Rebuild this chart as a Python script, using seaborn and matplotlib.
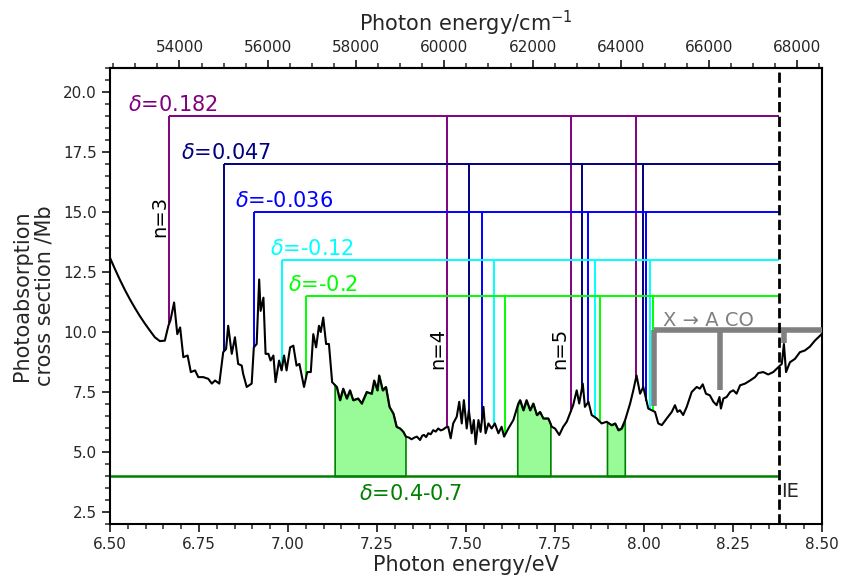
import numpy as np
import pandas as pd
import matplotlib
matplotlib.use("Agg")
import matplotlib.pyplot as plt
from matplotlib.ticker import MultipleLocator
import seaborn as sns

# ---------------- data ----------------
energy_ev = [6.500, 6.514, 6.528, 6.542, 6.556, 6.570, 6.584, 6.598, 6.612, 6.626,
             6.640, 6.654, 6.664, 6.670, 6.680, 6.689, 6.697,
             6.706, 6.718, 6.727, 6.739, 6.748, 6.762, 6.776, 6.786, 6.795, 6.807,
             6.818, 6.826, 6.832, 6.842, 6.851, 6.860, 6.870, 6.874, 6.884, 6.898,
             6.904, 6.912, 6.919, 6.923, 6.931, 6.937, 6.945, 6.951, 6.959, 6.965,
             6.975, 6.982, 6.989, 6.996, 7.006, 7.015, 7.024, 7.032, 7.045, 7.054,
             7.064, 7.071, 7.079, 7.087, 7.092, 7.099, 7.107, 7.115, 7.124, 7.137,
             7.146, 7.155, 7.165, 7.174, 7.183, 7.197, 7.207, 7.221, 7.235, 7.242,
             7.251, 7.256, 7.266, 7.275, 7.285, 7.296, 7.305, 7.315, 7.324, 7.331,
             7.340, 7.347, 7.355, 7.362, 7.371, 7.377, 7.382, 7.388, 7.394, 7.401,
             7.408, 7.415, 7.422, 7.429, 7.436, 7.443, 7.450, 7.457,
             7.464, 7.474, 7.481, 7.488, 7.494, 7.502, 7.508, 7.516, 7.522, 7.527,
             7.535, 7.541, 7.549, 7.555, 7.563, 7.572, 7.581, 7.591, 7.600, 7.607,
             7.619, 7.633, 7.647, 7.652, 7.661, 7.670, 7.680, 7.689, 7.699, 7.708,
             7.717, 7.731, 7.741, 7.750, 7.762, 7.773, 7.783, 7.792, 7.801, 7.811,
             7.818, 7.828, 7.834, 7.844, 7.853, 7.867, 7.881, 7.895, 7.909, 7.919,
             7.928, 7.937, 7.947, 7.961, 7.970, 7.979, 7.989, 7.998, 8.012, 8.031,
             8.040, 8.050, 8.064, 8.078, 8.087, 8.094, 8.101, 8.110, 8.120, 8.134,
             8.148, 8.157, 8.165, 8.174, 8.185, 8.195, 8.204, 8.212, 8.216, 8.223,
             8.232, 8.242, 8.251, 8.260, 8.270, 8.284, 8.298, 8.312, 8.321, 8.335,
             8.349, 8.363, 8.373, 8.387, 8.393, 8.399, 8.410, 8.424, 8.438, 8.452,
             8.466, 8.480, 8.499]
cross_section = [13.09, 12.62, 12.17, 11.75, 11.36, 11.00, 10.66, 10.35, 10.06, 9.78,
                 9.62, 9.64, 10.26, 10.50, 11.23, 9.91, 10.19,
                 8.95, 9.02, 8.33, 8.40, 8.12, 8.12, 8.05, 7.85, 7.98, 7.85,
                 9.16, 9.29, 10.26, 9.09, 9.78, 8.67, 8.60, 8.26, 7.71, 7.85,
                 9.36, 9.50, 12.19, 10.88, 11.43, 9.09, 9.09, 8.81, 9.02, 7.91,
                 8.81, 8.40, 9.02, 8.40, 9.36, 9.43, 8.60, 8.67, 7.71, 8.33,
                 8.33, 9.91, 9.36, 10.26, 10.00, 10.60, 9.50, 9.50, 7.91, 7.71,
                 7.16, 7.64, 7.23, 7.57, 7.16, 7.23, 7.02, 7.50, 7.43, 7.98,
                 7.57, 8.19, 7.57, 7.71, 6.88, 6.60, 6.05, 5.98, 5.84, 5.64,
                 5.60, 5.53, 5.60, 5.64, 5.50, 5.68, 5.71, 5.62, 5.78, 5.74,
                 5.91, 5.85, 5.98, 5.90, 5.94, 6.02, 6.05, 5.57,
                 6.19, 6.47, 7.09, 6.19, 7.16, 5.98, 6.74, 5.78, 6.33, 5.33,
                 6.33, 5.84, 6.88, 5.78, 6.19, 5.98, 6.19, 5.78, 6.05, 5.64,
                 5.98, 6.33, 7.02, 7.16, 6.74, 7.16, 6.74, 7.02, 6.54, 6.67,
                 6.40, 6.40, 6.05, 5.98, 5.71, 6.05, 6.26, 6.60, 6.95, 7.57,
                 7.02, 7.85, 6.88, 7.09, 6.54, 6.40, 6.19, 6.26, 6.12, 6.19,
                 5.91, 5.98, 6.33, 7.02, 7.57, 8.19, 7.43, 7.71, 6.81, 6.67,
                 6.19, 6.12, 6.40, 6.67, 6.95, 6.67, 6.74, 6.54, 6.88, 7.50,
                 7.71, 7.64, 7.82, 7.43, 7.36, 7.09, 6.95, 7.29, 6.81, 7.23,
                 7.29, 7.50, 7.57, 7.43, 7.78, 7.85, 7.98, 8.12, 8.29, 8.33,
                 8.23, 8.33, 8.47, 8.67, 9.50, 8.33, 8.74, 8.88, 9.16, 9.23,
                 9.39, 9.64, 9.91]

series_labels = ["$\\delta$=0.182", "$\\delta$=0.047", "$\\delta$=-0.036",
                 "$\\delta$=-0.12", "$\\delta$=-0.2"]
series_colors = ["purple", "navy", "blue", "cyan", "lime"]
series_levels = [19.0, 17.0, 15.0, 13.0, 11.5]
series_label_x = [6.55, 6.70, 6.85, 6.95, 7.00]
series_positions = [
    [6.667, 7.447, 7.794, 7.978],
    [6.820, 7.509, 7.825, 7.996],
    [6.904, 7.545, 7.844, 8.007],
    [6.982, 7.578, 7.861, 8.017],
    [7.051, 7.609, 7.877, 8.026],
]

n_labels = ["n=3", "n=4", "n=5"]
n_label_x = [6.640, 7.422, 7.762]
n_label_y = [14.8, 9.3, 9.3]

band_label = "$\\delta$=0.4-0.7"
band_level = 4.0
band_ranges = [(7.131, 7.330), (7.644, 7.737), (7.896, 7.946)]

co_label = "X → A CO"
co_positions = [8.028, 8.213, 8.393]
co_bottoms = [6.90, 7.58, 9.55]
co_level = 10.08

ionization_energy = 8.38
ev_to_cm = 8065.54

# ---------------- figure ----------------
sns.set_style("ticks")
plt.rcParams["font.family"] = ["DejaVu Sans"]
plt.rcParams["mathtext.fontset"] = "dejavusans"

fig, ax = plt.subplots(figsize=(8.41, 5.82), dpi=100)
fig.subplots_adjust(left=110 / 841, right=822 / 841, top=1 - 68 / 582, bottom=1 - 524 / 582)

df = pd.DataFrame({"energy": energy_ev, "sigma": cross_section})
ex = np.array(energy_ev)
ey = np.array(cross_section)

# green bands
for lo, hi in band_ranges:
    inside = (ex > lo) & (ex < hi)
    xs = np.concatenate([[lo], ex[inside], [hi]])
    ys = np.interp(xs, ex, ey)
    ax.fill_between(xs, band_level, ys, facecolor="palegreen", edgecolor="green",
                    linewidth=1.2, zorder=1)
ax.hlines(band_level, 6.5, ionization_energy, color="green", lw=1.8, zorder=2)
ax.text(7.20, 3.25, band_label, color="green", fontsize=15, ha="left", va="center")

# Rydberg series
for lab, col, lev, lx, pos in zip(series_labels, series_colors, series_levels,
                                  series_label_x, series_positions):
    bottoms = np.interp(pos, ex, ey)
    ax.vlines(pos, bottoms, lev, color=col, lw=1.4, zorder=3)
    ax.hlines(lev, pos[0], ionization_energy, color=col, lw=1.4, zorder=3)
    ax.text(lx, lev + 0.2, lab, color=col, fontsize=15, ha="left", va="baseline")

for lab, nx, ny in zip(n_labels, n_label_x, n_label_y):
    ax.text(nx, ny, lab, rotation=90, fontsize=14, ha="center", va="center", color="black")

# CO bands
ax.vlines(co_positions, co_bottoms, co_level, color="grey", lw=4, zorder=3)
ax.hlines(co_level, co_positions[0], 8.6, color="grey", lw=4, zorder=3)
ax.text(8.053, 10.27, co_label, color="grey", fontsize=14, ha="left", va="baseline")

# spectrum
sns.lineplot(data=df, x="energy", y="sigma", color="black", lw=1.5, ax=ax,
             estimator=None, sort=False, zorder=4)

# ionization energy
ax.axvline(ionization_energy, color="black", ls="--", lw=2, zorder=5)
ax.text(8.385, 3.35, "IE", fontsize=14, ha="left", va="center")

ax.set_xlim(6.5, 8.5)
ax.set_ylim(2.0, 21.0)
ax.set_xticks([6.50, 6.75, 7.00, 7.25, 7.50, 7.75, 8.00, 8.25, 8.50])
ax.set_xticklabels(["6.50", "6.75", "7.00", "7.25", "7.50", "7.75", "8.00", "8.25", "8.50"])
ax.set_yticks([2.5, 5.0, 7.5, 10.0, 12.5, 15.0, 17.5, 20.0])
ax.xaxis.set_minor_locator(MultipleLocator(0.05))
ax.yaxis.set_minor_locator(MultipleLocator(0.5))
ax.set_xlabel("Photon energy/eV", fontsize=15, labelpad=2)
ax.set_ylabel("Photoabsorption\ncross section /Mb", fontsize=15, labelpad=6)
ax.tick_params(which="major", direction="out", length=6, width=1.3, labelsize=11)
ax.tick_params(which="minor", direction="out", length=3.5, width=1.1)
for s in ax.spines.values():
    s.set_linewidth(1.5)
    s.set_color("black")

secax = ax.secondary_xaxis("top", functions=(lambda e: e * ev_to_cm, lambda c: c / ev_to_cm))
secax.set_xticks(list(range(54000, 68001, 2000)))
secax.xaxis.set_minor_locator(MultipleLocator(500))
secax.set_xlabel("Photon energy/cm$^{-1}$", fontsize=15, labelpad=6)
secax.tick_params(which="major", direction="out", length=6, width=1.3, labelsize=11)
secax.tick_params(which="minor", direction="out", length=3.5, width=1.1)
secax.spines["top"].set_linewidth(1.5)

fig.savefig("out.png", dpi=100)
